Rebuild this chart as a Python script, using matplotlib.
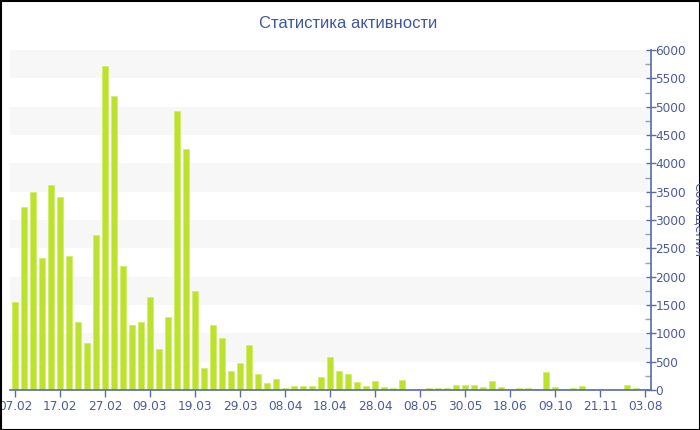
import matplotlib
matplotlib.use("Agg")
import matplotlib.pyplot as plt
from matplotlib.ticker import MultipleLocator

title = "Статистика активности"
y_label = "Сообщения"

values = [1560, 3230, 3500, 2335, 3618, 3412, 2371, 1206, 835, 2736,
          5724, 5189, 2189, 1141, 1194, 1636, 718, 1288, 4918, 4254,
          1747, 382, 1153, 918, 341, 471, 794, 275, 118, 190,
          38, 71, 76, 71, 229, 585, 332, 277, 136, 65,
          165, 47, 29, 171, 18, 18, 29, 29, 41, 82,
          82, 88, 47, 159, 53, 18, 35, 29, 18, 318,
          53, 12, 29, 65, 18, 15, 15, 15, 88, 29,
          18]
positions = list(range(len(values)))

tick_labels = ["07.02", "17.02", "27.02", "09.03", "19.03", "29.03", "08.04",
               "18.04", "28.04", "08.05", "30.05", "18.06", "09.10", "21.11", "03.08"]
tick_positions = [0, 5, 10, 15, 20, 25, 30, 35, 40, 45, 50, 55, 60, 65, 70]

axis_color = "#5a6ba6"
text_color = "#4a5b9b"
bar_color = "#bde12f"

fig = plt.figure(figsize=(7, 4.3), dpi=100)
ax = fig.add_axes([10/700, 1 - 390/430, 640.5/700, 340/430])

# alternating bands
for lo in range(500, 6000, 1000):
    ax.axhspan(lo, lo + 500, color="#f7f7f7", zorder=0, lw=0)

ax.bar(positions, values, width=0.74, color=bar_color, edgecolor="#d2ee6a",
       linewidth=0.6, zorder=2)

ax.set_xlim(-0.55, 70.6)
ax.set_ylim(0, 6000)

ax.yaxis.tick_right()
ax.yaxis.set_label_position("right")
ax.yaxis.set_major_locator(MultipleLocator(500))
ax.yaxis.set_minor_locator(MultipleLocator(250))
ax.tick_params(axis="y", which="major", direction="inout", length=7, width=1,
               color=axis_color, labelcolor=text_color, labelsize=8.7, pad=0)
ax.tick_params(axis="y", which="minor", direction="in", length=4, width=1,
               color="#a0a0a0")
ax.set_xticks(tick_positions)
ax.set_xticklabels(tick_labels)
ax.tick_params(axis="x", direction="out", length=5, width=1, color=axis_color,
               labelcolor=text_color, labelsize=8.7, pad=2)

for s in ["top", "left"]:
    ax.spines[s].set_visible(False)
for s in ["right", "bottom"]:
    ax.spines[s].set_color(axis_color)
    ax.spines[s].set_linewidth(1.2)

fig.text(348/700, 1 - 24/430, title, ha="center", va="center",
         fontsize=12, color="#3e57a0", family="Liberation Sans")
fig.text(698.5/700, 1 - 220/430, y_label, ha="center", va="center",
         rotation=270, fontsize=9, color=text_color)

# figure frame
fig.patches.append(plt.Rectangle((0.5/700, 0.5/430), 699/700, 429/430,
                                 transform=fig.transFigure, fill=False,
                                 edgecolor="black", linewidth=1.5))

fig.savefig("out.png", dpi=100)
